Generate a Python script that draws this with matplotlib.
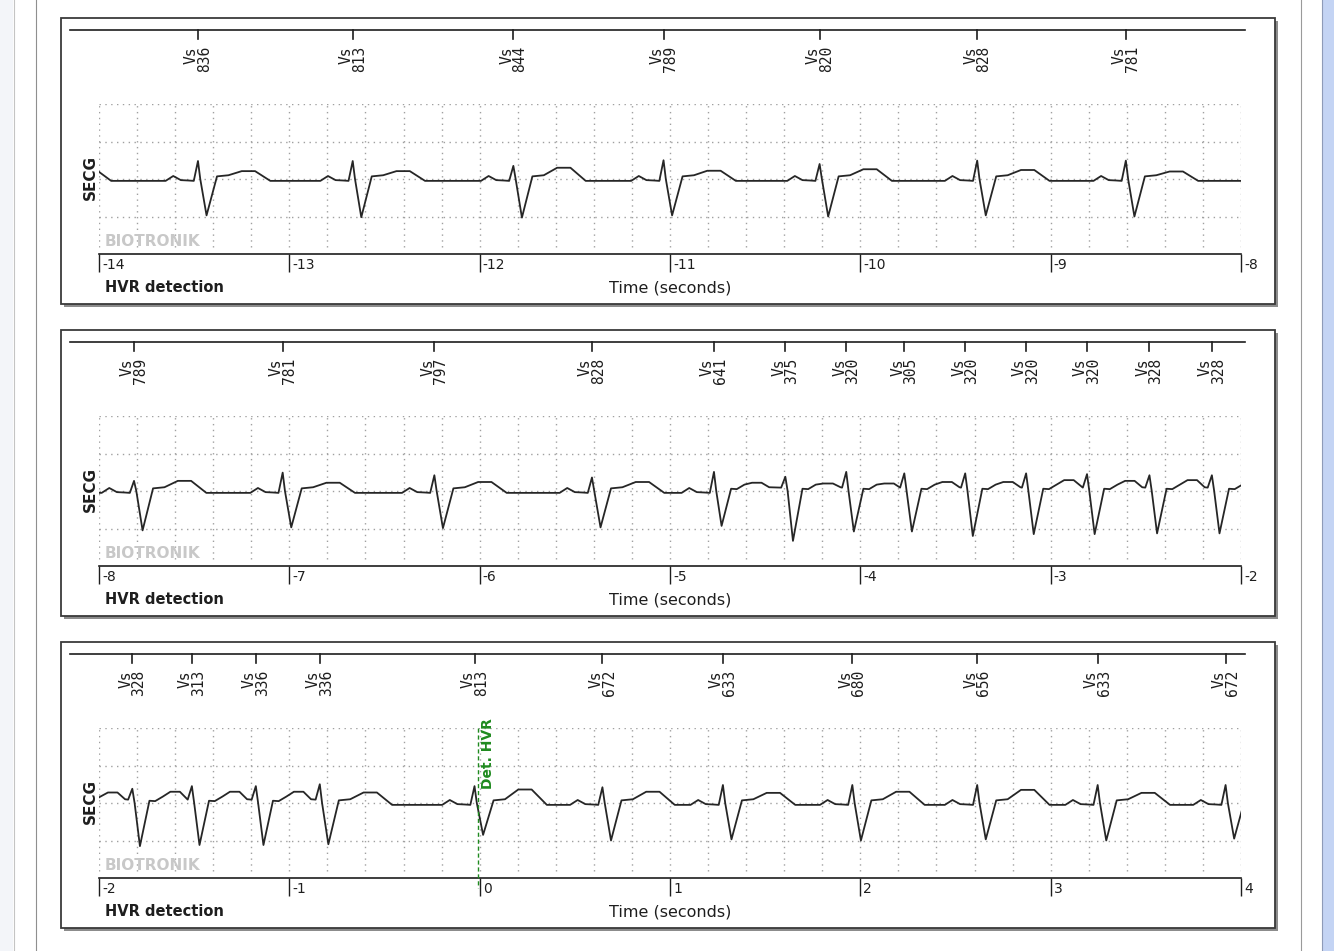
import numpy as np
import matplotlib
matplotlib.use("Agg")
import matplotlib.pyplot as plt
from matplotlib.patches import Rectangle

# ---------------- data ----------------
# RR interval (ms) printed under every "Vs" marker, in time order
rr_ms = [836, 813, 844, 789, 820, 828, 781,
         789, 781, 797, 828, 641, 375, 320, 305, 320, 320, 320, 328, 328,
         328, 313, 336, 336, 813, 672, 633, 680, 656, 633, 672]
first_beat_s = -13.48          # time of the first marked beat
# per-beat amplitudes (grid units) : R peak, S trough, T wave
r_amp = [0.48, 0.48, 0.35, 0.50, 0.40, 0.49, 0.49,
         0.27, 0.49, 0.42, 0.36, 0.51, 0.38, 0.51, 0.47, 0.47, 0.47, 0.45, 0.42, 0.42,
         0.38, 0.45, 0.45, 0.50, 0.45, 0.42, 0.48, 0.48, 0.48, 0.48, 0.48]
s_amp = [-0.97, -1.02, -1.03, -0.97, -1.00, -0.97, -1.00,
         -1.05, -0.97, -0.99, -0.97, -0.93, -1.33, -1.08, -1.08, -1.20, -1.15, -1.15, -1.13, -1.13,
         -1.15, -1.12, -1.12, -1.10, -0.85, -1.00, -0.97, -1.00, -0.97, -1.00, -0.95]
t_amp = [0.21, 0.21, 0.30, 0.22, 0.26, 0.24, 0.20,
         0.27, 0.22, 0.24, 0.24, 0.22, 0.20, 0.20, 0.24, 0.24, 0.29, 0.27, 0.29, 0.28,
         0.30, 0.30, 0.30, 0.28, 0.36, 0.30, 0.27, 0.30, 0.35, 0.27, 0.25]
pre_beat_amp = (0.48, -1.0, 0.25)   # beat before the record (only its T tail shows)

# beat shape (seconds relative to R peak, grid units)
p_wave_t = [-0.17, -0.13, -0.09, -0.05]
p_wave_v = [-0.05, 0.08, -0.03, -0.04]
slow_t = [0.0, 0.012, 0.045, 0.10, 0.16, 0.23, 0.30, 0.38]
fast_t = [0.0, 0.012, 0.040, 0.09, 0.12, 0.16, 0.20, 0.25, 0.29]

panel_ranges = [(-14, -8), (-8, -2), (-2, 4)]
det_time = -0.01
det_label = "Det. HVR"
y_label = "SECG"
x_label = "Time (seconds)"
left_label = "HVR detection"
watermark = "BIOTRONIK"
marker_code = "Vs"

# ---------------- figure ----------------
W, H = 1334, 951
fig = plt.figure(figsize=(W / 100, H / 100), dpi=100)
fig.patch.set_facecolor("white")

bg = fig.add_axes([0, 0, 1, 1], zorder=0)
bg.set_xlim(0, W)
bg.set_ylim(H, 0)
bg.axis("off")
# page frame
bg.add_patch(Rectangle((0, 0), 13, H, fc="#f3f5f9", ec="none"))
bg.plot([13.5, 13.5], [0, H], color="#c4c4c4", lw=0.8)
bg.plot([35.5, 35.5], [0, H], color="#8f8f8f", lw=0.8)
bg.plot([1300.5, 1300.5], [0, H], color="#9a9a9a", lw=0.8)
bg.add_patch(Rectangle((1322, 0), 12, H, fc="#c4d4f4", ec="none"))
bg.plot([1322, 1322], [0, H], color="#8e9bb8", lw=0.8)

PANEL_STEP = 312
dark = "#1e1e1e"
grid_c = "#a0a0a0"
green = "#1f8a1f"

# trace construction from beat list
times = first_beat_s + np.concatenate([[0.0], np.cumsum(rr_ms[1:]) / 1000.0])
all_t = np.concatenate([[first_beat_s - rr_ms[0] / 1000.0], times])
amps = [pre_beat_amp] + list(zip(r_amp, s_amp, t_amp))
tr_t, tr_v = [], []
n = len(all_t)
for i in range(n):
    ti = all_t[i]
    R, S, T = amps[i]
    rr_prev = ti - all_t[i - 1] if i > 0 else 10.0
    rr_next = all_t[i + 1] - ti if i < n - 1 else 10.0
    if rr_prev > 0.6:
        for rt, rv in zip(p_wave_t, p_wave_v):
            tr_t.append(ti + rt)
            tr_v.append(rv)
        onset = -0.05
    else:
        onset = 0.09
    tr_t.append(ti - 0.022)
    tr_v.append(onset)
    if rr_next < 0.45:
        rel_t = fast_t
        rel_v = [R, 0.0, S, 0.06, 0.05, 0.17, T, T, 0.10]
    else:
        rel_t = slow_t
        rel_v = [R, 0.0, S, 0.07, 0.10, T, T, -0.05]
    for rt, rv in zip(rel_t, rel_v):
        if rt < rr_next - 0.03:
            tr_t.append(ti + rt)
            tr_v.append(rv)
tr_t = np.array(tr_t)
tr_v = np.array(tr_v)


def yf(p):
    """panel-relative pixel row -> axes fraction"""
    return (254 - p) / 150.0


for k, (x0, x1) in enumerate(panel_ranges):
    off = k * PANEL_STEP
    # panel box with shadow
    bg.add_patch(Rectangle((64, 21 + off), 1214, 286, fc="#8c8c8c", ec="none"))
    bg.add_patch(Rectangle((61, 18 + off), 1214, 286, fc="white", ec="#3a3a3a", lw=1.3))

    bot_px = 254 + off
    ax = fig.add_axes([99 / W, 1 - bot_px / H, 1142 / W, 150 / H], zorder=2)
    ax.set_facecolor("none")
    ax.set_xlim(x0, x1)
    ax.set_ylim(-2, 2)
    for s in ["top", "left", "right"]:
        ax.spines[s].set_visible(False)
    ax.spines["bottom"].set_color(dark)
    ax.spines["bottom"].set_linewidth(1.2)
    ax.set_yticks([])
    ax.set_xticks(np.arange(x0, x1 + 1))
    ax.tick_params(axis="x", direction="out", length=13, width=1.0, color=dark,
                   labelbottom=False)

    xt = ax.get_xaxis_transform()
    # dotted grid
    gx = np.arange(x0, x1 + 1e-9, 0.2)
    ax.vlines(gx, -1.82, 2, colors=grid_c, linestyles=(0, (1, 3.2)), lw=1.0, zorder=1)
    ax.hlines([-1, 0, 1, 2], x0, x1, colors=grid_c, linestyles=(0, (1, 3.2)), lw=1.0, zorder=1)

    # ECG trace
    m = (tr_t >= x0 - 1) & (tr_t <= x1 + 1)
    ax.plot(tr_t[m], tr_v[m], color="#262626", lw=1.3, zorder=3, solid_joinstyle="round")

    # marker strip
    ax.plot([(70 - 99) / 1142, (1245 - 99) / 1142], [yf(30), yf(30)],
            transform=ax.transAxes, color=dark, lw=1.2, clip_on=False)
    for bt, rr in zip(times, rr_ms):
        if x0 <= bt <= x1:
            ax.plot([bt, bt], [yf(30), yf(39)], transform=xt, color=dark, lw=1.2,
                    clip_on=False)
            ax.text(bt, yf(46), f"{marker_code}\n{rr}", transform=xt, rotation=90,
                    ha="center", va="top", multialignment="right", linespacing=0.85,
                    fontsize=10.5, family="DejaVu Sans Mono", color=dark)

    # tick labels to the right of each tick
    for v in range(x0, x1 + 1):
        ax.annotate(f"{v}", xy=(v, yf(265)), xycoords=xt, xytext=(3, 0),
                    textcoords="offset pixels", ha="left", va="center",
                    fontsize=10, color=dark, annotation_clip=False)

    ax.text((105 - 99) / 1142, yf(242), watermark, transform=ax.transAxes,
            ha="left", va="center", fontsize=11, fontweight="bold", color="#c8c8c8",
            zorder=4)
    ax.text((105 - 99) / 1142, yf(287), left_label, transform=ax.transAxes,
            ha="left", va="center", fontsize=10.5, fontweight="bold", color=dark)
    ax.text(0.5, yf(288), x_label, transform=ax.transAxes,
            ha="center", va="center", fontsize=11.5, color=dark)
    ax.text((90 - 99) / 1142, yf(178), y_label, transform=ax.transAxes, rotation=90,
            ha="center", va="center", fontsize=11, fontweight="bold", color=dark)

    if x0 <= det_time <= x1:
        ax.plot([det_time, det_time], [1.0, yf(264)], transform=xt, color=green,
                lw=1.0, linestyle=(0, (3, 2)), clip_on=False, zorder=4)
        ax.annotate(det_label, xy=(det_time, yf(165)), xycoords=xt, xytext=(3, 0),
                    textcoords="offset pixels", rotation=90, ha="left", va="bottom",
                    fontsize=10, fontweight="bold", color=green, zorder=4,
                    annotation_clip=False)

fig.savefig("out.png", dpi=100, facecolor=fig.get_facecolor())
